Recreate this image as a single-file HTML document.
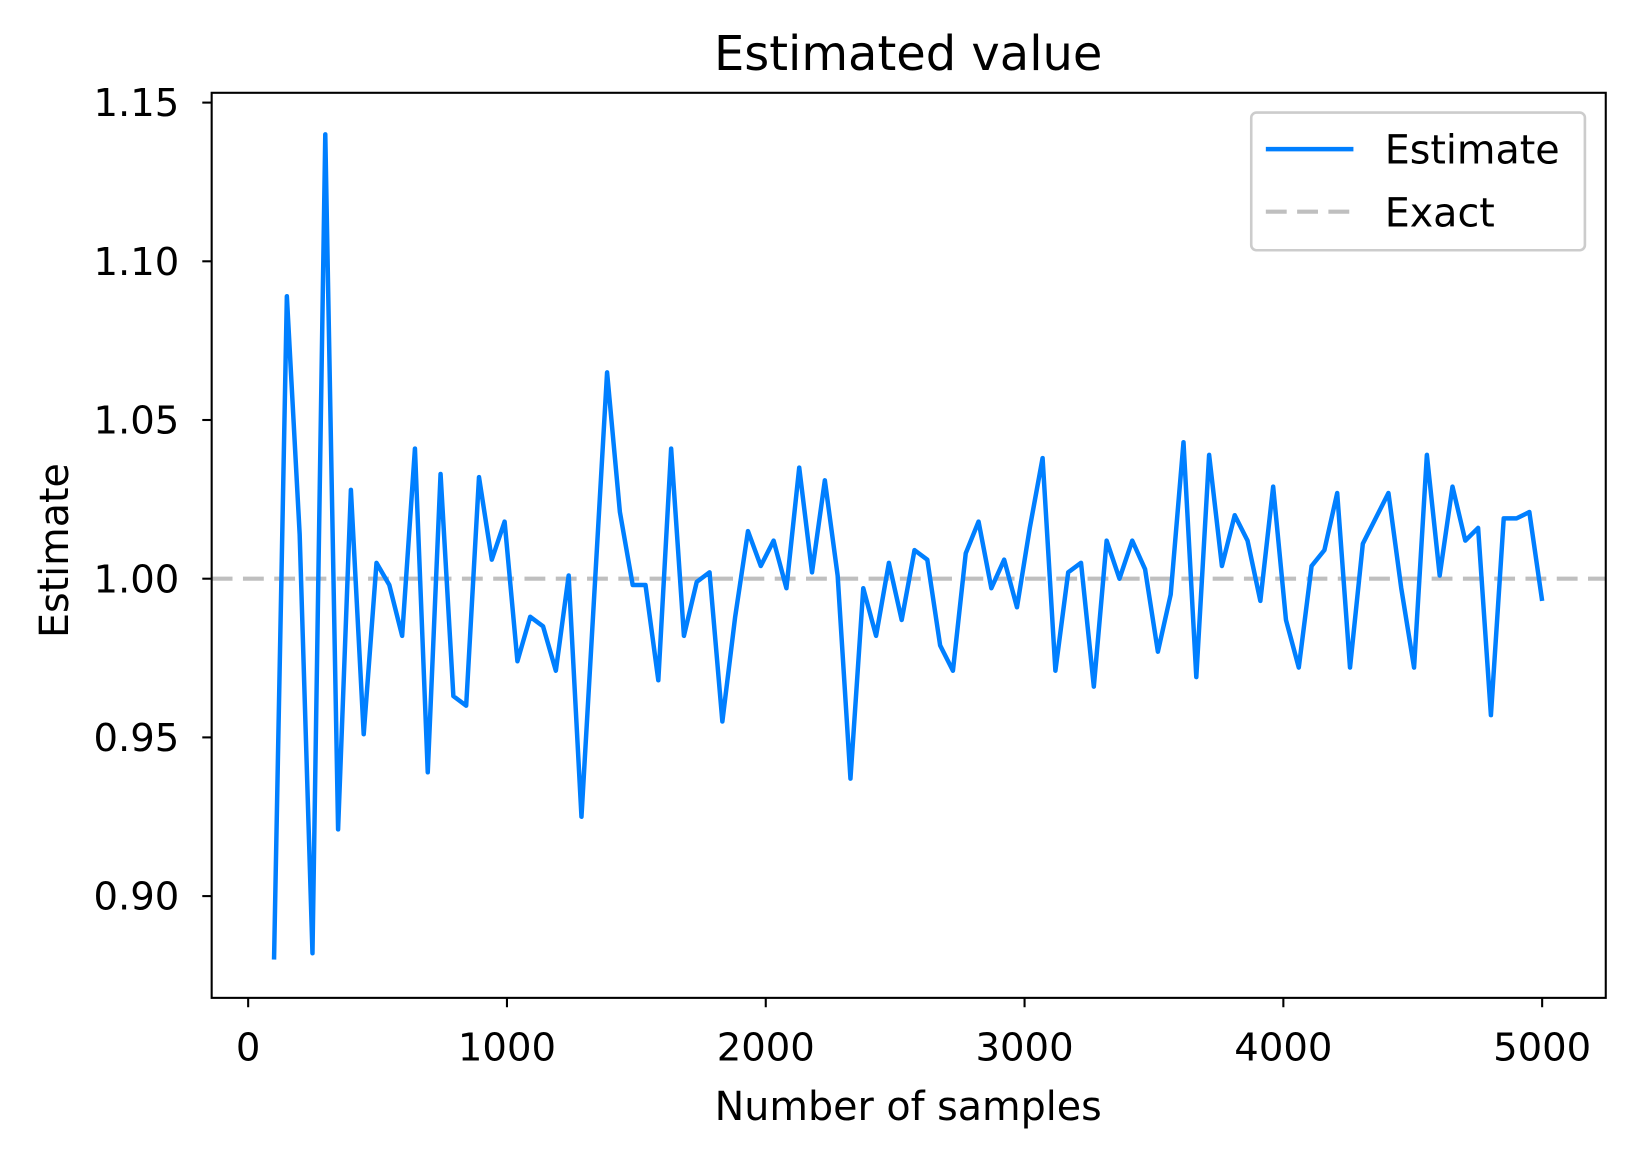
<!DOCTYPE html>
<html><head><meta charset="utf-8"><style>
body{margin:0;background:#fff;}
svg text{font-family:"DejaVu Sans","Liberation Sans",sans-serif;fill:#000;}
</style></head><body>
<svg id="chart" width="1635" height="1158" xmlns="http://www.w3.org/2000/svg">
<rect width="1635" height="1158" fill="#fff"/>
<g transform="scale(1.0427)">
<text x="871" y="67" font-size="46" text-anchor="middle">Estimated value</text>
<g id="xticks"></g>
<g id="yticks"></g>
<line id="exact" stroke="#bfbfbf" stroke-width="4" stroke-dasharray="20,10"/>
<polyline id="est" fill="none" stroke="#007fff" stroke-width="4.3" stroke-linejoin="round"/>
<rect x="203" y="89" width="1337" height="868" fill="none" stroke="#000" stroke-width="2"/>
<text x="871" y="1074" font-size="38" text-anchor="middle">Number of samples</text>
<text transform="translate(65,528) rotate(-90)" font-size="38" text-anchor="middle">Estimate</text>
<g>
<rect x="1200" y="108" width="320" height="132" rx="5" fill="#fff" stroke="#ccc" stroke-width="2.5"/>
<line x1="1214" y1="143" x2="1298" y2="143" stroke="#007fff" stroke-width="4.3"/>
<text x="1328" y="157" font-size="38">Estimate</text>
<line x1="1214" y1="203" x2="1298" y2="203" stroke="#bfbfbf" stroke-width="4" stroke-dasharray="20,10"/>
<text x="1328" y="217" font-size="38">Exact</text>
</g>
</g>
</svg>
<script>
const xStart = 100, xEnd = 5000;
const estimates = [0.880,1.089,1.014,0.882,1.140,0.921,1.028,0.951,1.005,0.998,0.982,1.041,0.939,1.033,0.963,0.960,1.032,1.006,1.018,0.974,0.988,0.985,0.971,1.001,0.925,0.995,1.065,1.021,0.998,0.998,0.968,1.041,0.982,0.999,1.002,0.955,0.988,1.015,1.004,1.012,0.997,1.035,1.002,1.031,1.001,0.937,0.997,0.982,1.005,0.987,1.009,1.006,0.979,0.971,1.008,1.018,0.997,1.006,0.991,1.016,1.038,0.971,1.002,1.005,0.966,1.012,1.000,1.012,1.003,0.977,0.995,1.043,0.969,1.039,1.004,1.020,1.012,0.993,1.029,0.987,0.972,1.004,1.009,1.027,0.972,1.011,1.019,1.027,0.997,0.972,1.039,1.001,1.029,1.012,1.016,0.957,1.019,1.019,1.021,0.993];
const exactValue = 1.0;
const xTicks = [0,1000,2000,3000,4000,5000];
const yTicks = [0.90,0.95,1.00,1.05,1.10,1.15];
const yTickLabels = ["0.90","0.95","1.00","1.05","1.10","1.15"];
const NS="http://www.w3.org/2000/svg";
const xs = v => 238 + v*(1479-238)/5000;
const ys = v => 555 - (v-1)*(152.2/0.05);
const xg=document.getElementById('xticks'), yg=document.getElementById('yticks');
xTicks.forEach(t=>{
  const l=document.createElementNS(NS,'line');
  
  
  l.setAttribute('x1',xs(t));l.setAttribute('x2',xs(t));l.setAttribute('y1',957);l.setAttribute('y2',966);l.setAttribute('stroke','#000');l.setAttribute('stroke-width','2');
  xg.appendChild(l);
  const tx=document.createElementNS(NS,'text');
  
  
  tx.setAttribute('x',xs(t));tx.setAttribute('y',1017);tx.setAttribute('font-size','37');tx.setAttribute('text-anchor','middle');
  tx.textContent=t;xg.appendChild(tx);
});
yTicks.forEach((t,i)=>{
  const l=document.createElementNS(NS,'line');
  
  
  l.setAttribute('x1',194);l.setAttribute('x2',203);l.setAttribute('y1',ys(t));l.setAttribute('y2',ys(t));l.setAttribute('stroke','#000');l.setAttribute('stroke-width','2');
  yg.appendChild(l);
  const tx=document.createElementNS(NS,'text');
  
  
  tx.setAttribute('x',172);tx.setAttribute('y',ys(t)+13);tx.setAttribute('font-size','37');tx.setAttribute('text-anchor','end');
  tx.textContent=yTickLabels[i];yg.appendChild(tx);
});
const ex=document.getElementById('exact');
ex.setAttribute('x1',203);ex.setAttribute('x2',1540);ex.setAttribute('y1',ys(exactValue));ex.setAttribute('y2',ys(exactValue));
const step=(xEnd-xStart)/(estimates.length-1);
document.getElementById('est').setAttribute('points',estimates.map((v,i)=>xs(xStart+i*step)+','+ys(v)).join(' '));
</script>
</body></html>
